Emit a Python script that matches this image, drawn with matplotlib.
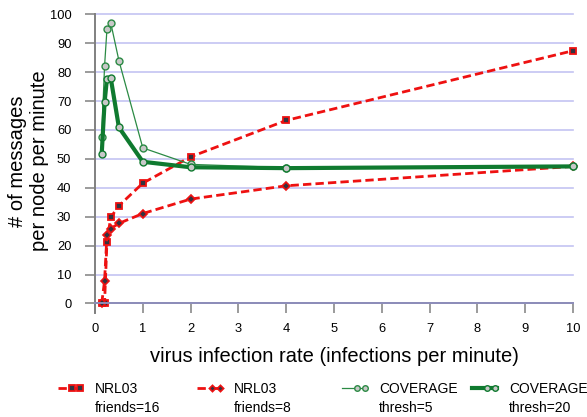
import numpy as np
import matplotlib
matplotlib.use("Agg")
import matplotlib.pyplot as plt
from matplotlib.lines import Line2D
from matplotlib.legend_handler import HandlerBase

plt.rcParams["font.family"] = ["Liberation Sans", "DejaVu Sans"]

# infection rate (infections per minute)
rate = [0.14, 0.2, 0.25, 0.33, 0.5, 1, 2, 4, 10]
# messages per node per minute
nrl_friends16 = [0, 0, 21.4, 29.8, 33.8, 41.6, 50.7, 63.3, 87.4]
nrl_friends8 = [0, 7.8, 23.7, 25.9, 27.7, 31.1, 36.1, 40.7, 47.4]
cov_thresh5 = [57.6, 82.1, 94.8, 97.0, 84.0, 53.8, 48.1, 47.0, 47.5]
cov_thresh20 = [51.6, 69.5, 77.7, 77.9, 60.9, 49.0, 47.1, 46.8, 47.4]

x_ticks = list(range(0, 11))
y_ticks = list(range(0, 101, 10))

W, H = 587, 417
fig = plt.figure(figsize=(W / 100, H / 100), dpi=100)
ax = fig.add_axes([95 / W, 1 - 313.3 / H, (573 - 95) / W, (313.3 - 14.3) / H])
ax.set_xlim(0, 10)
ax.set_ylim(-3.4, 100)

for side in ("top", "right"):
    ax.spines[side].set_visible(False)
ax.spines["bottom"].set_position(("data", 0))
ax.spines["bottom"].set_color("#8c8cb8")
ax.spines["bottom"].set_linewidth(1.4)
ax.spines["left"].set_color("#808080")
ax.spines["left"].set_linewidth(1.4)

ax.set_xticks(x_ticks)
ax.set_yticks(y_ticks)
ax.tick_params(axis="both", direction="out", length=7, width=1.1,
               color="#808080", labelsize=9.3)
ax.tick_params(axis="y", pad=10)
ax.tick_params(axis="x", pad=7)
ax.yaxis.grid(True, color="#c4c4f2", linewidth=1.2)
for gl in ax.yaxis.get_gridlines():
    gl.set_clip_on(False)
ax.set_axisbelow(True)

red = "#ee1111"
dark = "#333340"
g_thin = "#2b8a44"
g_thick = "#0f7a2f"
face = "#c8c8c8"

l1, = ax.plot(rate, nrl_friends16, color=red, lw=2, dashes=(3, 1.5),
              marker="s", ms=5, mfc=dark, mec=red, mew=1.3, clip_on=False)
l2, = ax.plot(rate, nrl_friends8, color=red, lw=2, dashes=(3, 1.5),
              marker="D", ms=4, mfc=dark, mec=red, mew=1.2, clip_on=False)
l3, = ax.plot(rate, cov_thresh5, color=g_thin, lw=0.9,
              marker="o", ms=5, mfc=face, mec=g_thin, mew=1.0, clip_on=False)
l4, = ax.plot(rate, cov_thresh20, color=g_thick, lw=3,
              marker="o", ms=5, mfc=face, mec=g_thick, mew=1.0, clip_on=False)


class PairOnRight(HandlerBase):
    """Legend key: full line with two markers near its right end."""

    def create_artists(self, legend, orig_handle, xdescent, ydescent,
                       width, height, fontsize, trans):
        y = height / 2 - ydescent
        x0 = -xdescent
        line = Line2D([x0, x0 + width], [y, y])
        line.update_from(orig_handle)
        line.set_marker("None")
        marks = Line2D(x0 + width * np.array([0.58, 0.9]), [y, y])
        marks.update_from(orig_handle)
        marks.set_linestyle("None")
        marks.set_markersize(orig_handle.get_markersize() * 0.8)
        line.set_transform(trans)
        marks.set_transform(trans)
        return [line, marks]


entries = [
    (l1, "NRL03", "friends=16", 58),
    (l2, "NRL03", "friends=8", 197),
    (l3, "COVERAGE", "thresh=5", 342),
    (l4, "COVERAGE", "thresh=20", 472),
]
legends = []
for handle, first, second, xpix in entries:
    leg = fig.legend([handle], [first], loc="center left",
                     bbox_to_anchor=(xpix / W, 1 - 389 / H),
                     frameon=False, fontsize=10, handlelength=1.8,
                     handletextpad=0.85, borderpad=0, borderaxespad=0,
                     handler_map={handle: PairOnRight()})
    legends.append((leg, second))

fig.canvas.draw()
for leg, second in legends:
    bb = leg.get_texts()[0].get_window_extent()
    fig.text(bb.x0 / W, 1 - 408 / H, second, fontsize=10,
             ha="left", va="center")

fig.text(334 / W, 1 - 357 / H, "virus infection rate (infections per minute)",
         ha="center", va="center", fontsize=14.5)
fig.text(29 / W, 1 - 161 / H, "# of messages\nper node per minute",
         rotation=90, ha="center", va="center", fontsize=14.5,
         multialignment="center")

fig.savefig("out.png", dpi=100)
